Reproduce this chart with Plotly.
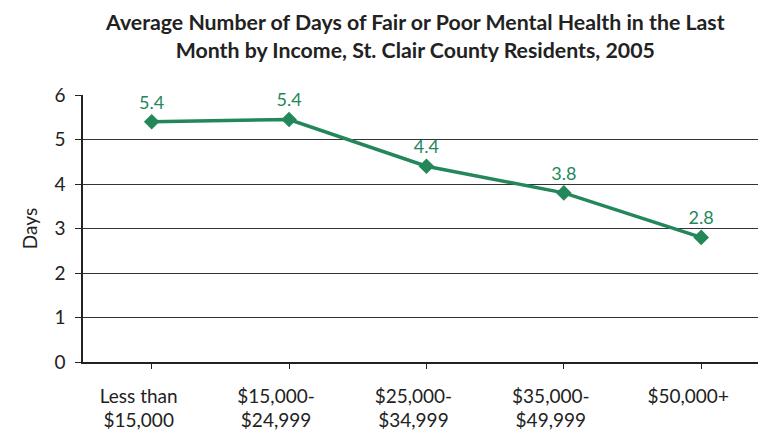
import plotly.graph_objects as go

categories = ["Less than<br>$15,000", "$15,000-<br>$24,999", "$25,000-<br>$34,999",
              "$35,000-<br>$49,999", "$50,000+<br> "]
days = [5.4, 5.45, 4.4, 3.8, 2.8]
labels = ["5.4", "5.4", "4.4", "3.8", "2.8"]
yticks = [0, 1, 2, 3, 4, 5, 6]
title_text = ("<b>Average Number of Days of Fair or Poor Mental Health in the Last<br>"
              "Month by Income, St. Clair County Residents, 2005</b>")

green = "#23875a"
font = "Lato"

fig = go.Figure()
fig.add_trace(go.Scatter(
    x=list(range(len(categories))), y=days,
    mode="lines+markers+text",
    line=dict(color=green, width=3.5),
    marker=dict(symbol="diamond", size=12, color=green),
    text=labels, textposition="top center",
    textfont=dict(color=green, size=18, family=font),
    cliponaxis=False, hoverinfo="skip",
))

fig.update_layout(
    width=766, height=442,
    margin=dict(l=75, r=0, t=87, b=88),
    paper_bgcolor="white", plot_bgcolor="white",
    showlegend=False,
    font=dict(family=font, size=17, color="#222"),
    annotations=[dict(
        text=title_text, xref="paper", yref="paper",
        x=0.48, y=1.221, xanchor="center", yanchor="middle",
        showarrow=False, font=dict(family=font, size=21.3, color="#222"),
    )],
)
fig.update_xaxes(
    tickmode="array", tickvals=list(range(len(categories))), ticktext=categories,
    range=[-0.5, 4.53], showgrid=False, zeroline=False, automargin=False,
    showline=True, linecolor="#222", linewidth=1.5,
    ticks="outside", tickson="boundaries", ticklen=5, tickcolor="#222",
    ticklabelstandoff=11, ticklabelshift=-13,
    tickfont=dict(size=19, family=font, color="#222"),
)
fig.update_yaxes(
    range=[0, 6], tickvals=yticks, showgrid=True, gridcolor="#333", gridwidth=1,
    zeroline=False, showline=True, linecolor="#222", linewidth=1.5, automargin=False,
    ticks="outside", ticklen=6, tickcolor="#222", ticklabelstandoff=6,
    tickfont=dict(size=19, family=font, color="#222"),
    title=dict(text="Days", font=dict(size=19, family=font, color="#222"), standoff=12),
)
fig.write_html("out.html")
